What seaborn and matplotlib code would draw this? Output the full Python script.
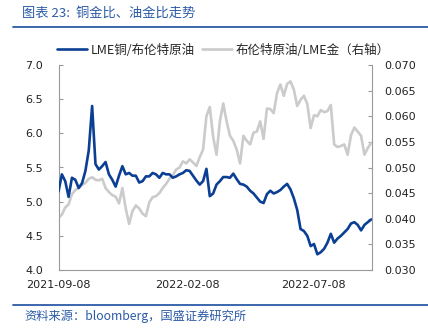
import numpy as np
import pandas as pd
import matplotlib
matplotlib.use("Agg")
import matplotlib.pyplot as plt
import matplotlib.dates as mdates
from matplotlib.lines import Line2D
import seaborn as sns

sns.set_theme(style="white")
plt.rcParams['font.family'] = ['DejaVu Sans', 'Noto Sans CJK SC']
CJK = ['Noto Sans CJK SC', 'DejaVu Sans']

start_date = "2021-09-08"
n_points = 94
copper_oil = [
    5.15, 5.40, 5.30, 5.07, 5.35, 5.32, 5.20, 5.27, 5.45, 5.75,
    6.40, 5.55, 5.47, 5.52, 5.58, 5.40, 5.32, 5.22, 5.38, 5.52,
    5.40, 5.42, 5.38, 5.38, 5.28, 5.30, 5.37, 5.37, 5.42, 5.40,
    5.35, 5.42, 5.40, 5.40, 5.35, 5.37, 5.40, 5.42, 5.46, 5.45,
    5.38, 5.31, 5.25, 5.30, 5.48, 5.08, 5.12, 5.25, 5.30, 5.36,
    5.36, 5.35, 5.41, 5.33, 5.26, 5.25, 5.22, 5.16, 5.12, 5.06,
    5.00, 4.98, 5.11, 5.16, 5.12, 5.14, 5.17, 5.22, 5.26, 5.18,
    5.05, 4.88, 4.60, 4.57, 4.50, 4.35, 4.38, 4.23, 4.26, 4.31,
    4.40, 4.53, 4.40, 4.46, 4.50, 4.55, 4.60, 4.68, 4.70, 4.66,
    4.58, 4.66, 4.70, 4.74,
]
oil_gold = [
    0.0402, 0.0408, 0.0422, 0.0428, 0.0448, 0.0456, 0.0460, 0.0466, 0.0470, 0.0478,
    0.0481, 0.0476, 0.0475, 0.0478, 0.0460, 0.0452, 0.0446, 0.0443, 0.0430, 0.0460,
    0.0420, 0.0390, 0.0415, 0.0426, 0.0420, 0.0410, 0.0405, 0.0432, 0.0442, 0.0444,
    0.0450, 0.0460, 0.0468, 0.0478, 0.0485, 0.0496, 0.0500, 0.0512, 0.0508, 0.0516,
    0.0510, 0.0503, 0.0520, 0.0535, 0.0600, 0.0618, 0.0560, 0.0525, 0.0590, 0.0625,
    0.0590, 0.0562, 0.0552, 0.0535, 0.0508, 0.0562, 0.0552, 0.0545, 0.0568, 0.0570,
    0.0590, 0.0556, 0.0615, 0.0614, 0.0606, 0.0645, 0.0662, 0.0640, 0.0663, 0.0668,
    0.0652, 0.0620, 0.0632, 0.0640, 0.0624, 0.0577, 0.0602, 0.0600, 0.0612, 0.0608,
    0.0610, 0.0622, 0.0545, 0.0540, 0.0542, 0.0545, 0.0525, 0.0563, 0.0578, 0.0570,
    0.0562, 0.0525, 0.0538, 0.0548,
]
xtick_labels = ["2021-09-08", "2022-02-08", "2022-07-08"]
left_ticks = [4.0, 4.5, 5.0, 5.5, 6.0, 6.5, 7.0]
right_ticks = [0.030, 0.035, 0.040, 0.045, 0.050, 0.055, 0.060, 0.065, 0.070]
name_blue = "LME铜/布伦特原油"
name_gray = "布伦特原油/LME金（右轴）"
title_text = "图表 23:  铜金比、油金比走势"
source_text = "资料来源：bloomberg，国盛证券研究所"

dates = pd.date_range(start_date, periods=n_points, freq="4D")
df = pd.DataFrame({"date": dates, "copper_oil": copper_oil, "oil_gold": oil_gold})

BLUE = "#0B3F94"
GRAY = "#CBCBCB"
TXT_BLUE = "#2B5BA6"
AX_GRAY = "#9A9A9A"

fig = plt.figure(figsize=(4.28, 3.28), dpi=100)
ax = fig.add_axes([58.5 / 428, 1 - 270 / 328, (372 - 58.5) / 428, (270 - 65) / 328])
ax2 = ax.twinx()

sns.lineplot(data=df, x="date", y="oil_gold", ax=ax2, color=GRAY, linewidth=1.9, zorder=1)
sns.lineplot(data=df, x="date", y="copper_oil", ax=ax, color=BLUE, linewidth=1.9, zorder=3)
ax.set_zorder(ax2.get_zorder() + 1)
ax.patch.set_visible(False)

ax.set_ylim(4.0, 7.0)
ax2.set_ylim(0.030, 0.070)
ax.set_yticks(left_ticks)
ax.set_yticklabels([f"{v:.1f}" for v in left_ticks])
ax2.set_yticks(right_ticks)
ax2.set_yticklabels([f"{v:.3f}" for v in right_ticks])
ax.set_xlim(pd.Timestamp("2021-09-08"), pd.Timestamp("2022-09-16"))
ax.set_xticks([pd.Timestamp(d) for d in xtick_labels])
ax.set_xticklabels(xtick_labels)

for a in (ax, ax2):
    a.set_xlabel("")
    a.set_ylabel("")
    a.spines["top"].set_visible(False)
    for s in ("left", "right", "bottom"):
        a.spines[s].set_color(AX_GRAY)
        a.spines[s].set_linewidth(0.8)
ax.spines["right"].set_visible(False)
ax2.spines["left"].set_visible(False)
ax2.spines["bottom"].set_visible(False)

ax.tick_params(axis="y", direction="in", length=3, width=0.8, color=AX_GRAY,
               labelsize=8, pad=11, labelcolor="#222222")
ax.tick_params(axis="x", direction="in", length=3, width=0.8, color=AX_GRAY,
               labelsize=8, pad=7, labelcolor="#222222")
ax2.tick_params(axis="y", direction="in", length=3, width=0.8, color=AX_GRAY,
                labelsize=8, pad=9, labelcolor="#222222")
if ax2.get_legend():
    ax2.get_legend().remove()
if ax.get_legend():
    ax.get_legend().remove()

handles = [Line2D([], [], color=BLUE, linewidth=1.9), Line2D([], [], color=GRAY, linewidth=1.9)]
fig.legend(handles, [name_blue, name_gray], loc="center", bbox_to_anchor=(0.522, 1 - 50 / 328),
           ncol=2, frameon=False, handlelength=2.4, handletextpad=0.3, columnspacing=0.6,
           prop={"family": CJK, "size": 9})

# title, rules and source
fig.text(22 / 428, 1 - 13 / 328, title_text, ha="left", va="center", color=TXT_BLUE,
         fontsize=9.5, family=CJK)
fig.add_artist(Line2D([13 / 428, 1.0], [1 - 27 / 328, 1 - 27 / 328], color=TXT_BLUE, linewidth=1.3))
fig.add_artist(Line2D([13 / 428, 1.0], [1 - 305 / 328, 1 - 305 / 328], color=TXT_BLUE, linewidth=1.3))
fig.text(24 / 428, 1 - 316 / 328, source_text, ha="left", va="center", color=TXT_BLUE,
         fontsize=8.8, family=CJK)

fig.savefig("out.png", dpi=100)
